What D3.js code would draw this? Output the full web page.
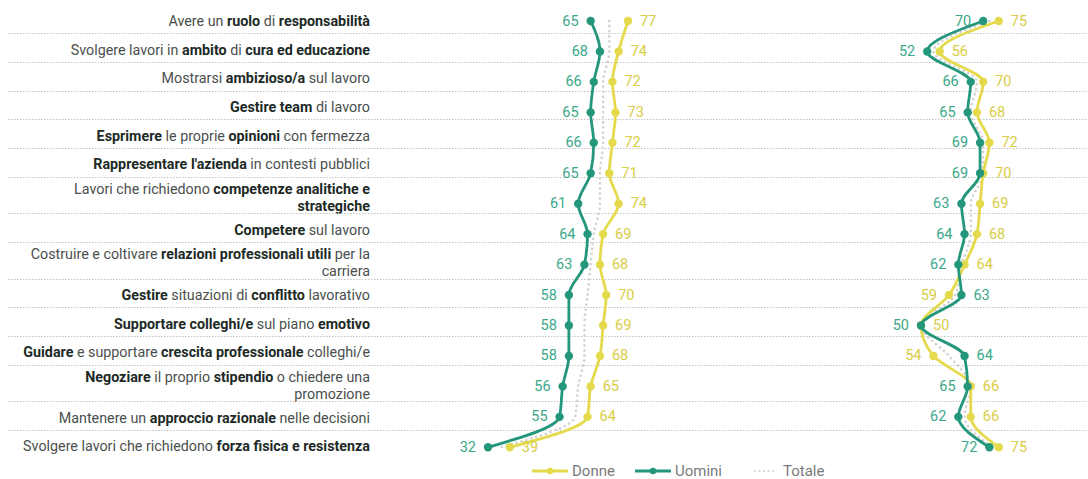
<!DOCTYPE html>
<html>
<head>
<meta charset="utf-8">
<script src="https://cdn.jsdelivr.net/npm/d3@7"></script>
<style>
  html, body { margin: 0; padding: 0; background: #fff; }
  svg { display: block; font-family: Roboto, "Noto Sans", sans-serif; }
</style>
</head>
<body>
<svg id="chart" width="1088" height="479"></svg>
<script>
// Row labels: **bold** segments, "|" marks a line break
const categories = [
  "Avere un **ruolo** di **responsabilità**",
  "Svolgere lavori in **ambito** di **cura ed educazione**",
  "Mostrarsi **ambizioso/a** sul lavoro",
  "**Gestire team** di lavoro",
  "**Esprimere** le proprie **opinioni** con fermezza",
  "**Rappresentare l'azienda** in contesti pubblici",
  "Lavori che richiedono **competenze analitiche e**|**strategiche**",
  "**Competere** sul lavoro",
  "Costruire e coltivare **relazioni professionali utili** per la|carriera",
  "**Gestire** situazioni di **conflitto** lavorativo",
  "**Supportare colleghi/e** sul piano **emotivo**",
  "**Guidare** e supportare **crescita professionale** colleghi/e",
  "**Negoziare** il proprio **stipendio** o chiedere una|promozione",
  "Mantenere un **approccio razionale** nelle decisioni",
  "Svolgere lavori che richiedono **forza fisica e resistenza**"
];

// First panel
const donneA  = [77, 74, 72, 73, 72, 71, 74, 69, 68, 70, 69, 68, 65, 64, 39];
const uominiA = [65, 68, 66, 65, 66, 65, 61, 64, 63, 58, 58, 58, 56, 55, 32];
const totaleA = [71, 71, 69, 69, 69, 68, 68, 66, 65, 64, 63, 63, 61, 60, 36];

// Second panel
const donneB  = [75, 56, 70, 68, 72, 70, 69, 68, 64, 59, 50, 54, 66, 66, 75];
const uominiB = [70, 52, 66, 65, 69, 69, 63, 64, 62, 63, 50, 64, 65, 62, 72];
const totaleB = [72, 54, 68, 66, 70, 70, 66, 66, 63, 61, 50, 59, 66, 64, 73];

const legendLabels = ["Donne", "Uomini", "Totale"];

const COL = {
  donne: "#e4da4c", donneText: "#d8cd45",
  uomini: "#24967b", uominiText: "#3aa88b",
  totale: "#d2d2d2",
  grid: "#c4c4c4",
  text: "#4a4f4d", bold: "#1d2a26",
  legend: "#7a7a7a"
};

const svg = d3.select("#chart");
const W = 1088;

// ---- label column with dotted separators ----
const labelRight = 370;
const rowTop0 = 4.6, rowSingle = 28.7, rowExtra = 7.9, lineGap = 17;

const parsed = categories.map(s => s.split("|").map(line =>
  line.split(/(\*\*[^*]+\*\*)/).filter(t => t.length).map(t =>
    t.startsWith("**") ? { t: t.slice(2, -2), b: true } : { t, b: false })));

let acc = rowTop0;
const rows = parsed.map(lines => {
  const h = rowSingle + (lines.length - 1) * rowExtra;
  const r = { top: acc, h, lines };
  acc += h;
  return r;
});

const labelG = svg.append("g");
rows.forEach((r, i) => {
  const cy = r.top + r.h / 2 + 2;
  r.lines.forEach((segs, li) => {
    const y = cy + (li - (r.lines.length - 1) / 2) * lineGap;
    const t = labelG.append("text")
      .attr("x", labelRight).attr("y", y)
      .attr("text-anchor", "end").attr("dominant-baseline", "central")
      .attr("font-size", 14.3);
    segs.forEach(s => t.append("tspan")
      .text(s.t)
      .attr("font-weight", s.b ? 700 : 400)
      .attr("fill", s.b ? COL.bold : COL.text));
  });
  if (i < rows.length - 1) {
    const y = Math.round(r.top + r.h) + 0.5;
    svg.append("line")
      .attr("x1", 8).attr("x2", W).attr("y1", y).attr("y2", y)
      .attr("stroke", COL.grid).attr("stroke-width", 1)
      .attr("stroke-dasharray", "1.5,1.5");
  }
});

// ---- panels ----
const y = d3.scalePoint().domain(d3.range(categories.length))
  .range([21, 447.3]);

const panels = [
  { x: d3.scaleLinear().domain([0, 100]).range([388.5, 699.5]), d: donneA, u: uominiA, t: totaleA },
  { x: d3.scaleLinear().domain([0, 100]).range([765.5, 1076.5]), d: donneB, u: uominiB, t: totaleB }
];

panels.forEach(p => {
  const g = svg.append("g");
  const line = d3.line()
    .x(d => p.x(d)).y((d, i) => y(i))
    .curve(d3.curveMonotoneY);

  g.append("path").datum(p.t)
    .attr("d", line).attr("fill", "none")
    .attr("stroke", COL.totale).attr("stroke-width", 2.6)
    .attr("stroke-linecap", "round").attr("stroke-dasharray", "0.1,5");

  [[p.d, COL.donne], [p.u, COL.uomini]].forEach(([vals, c]) => {
    g.append("path").datum(vals)
      .attr("d", line).attr("fill", "none")
      .attr("stroke", c).attr("stroke-width", 2.8)
      .attr("stroke-linejoin", "round");
    g.selectAll(null).data(vals).join("circle")
      .attr("cx", d => p.x(d)).attr("cy", (d, i) => y(i))
      .attr("r", 4.2).attr("fill", c);
  });

  // value labels: the lower value sits left of its point, the higher one right
  categories.forEach((_, i) => {
    const dv = p.d[i], uv = p.u[i];
    const uLeft = uv <= dv;
    const items = [
      { v: uv, left: uLeft, c: COL.uominiText },
      { v: dv, left: !uLeft, c: COL.donneText }
    ];
    items.forEach(it => {
      g.append("text")
        .attr("x", p.x(it.v) + (it.left ? -12 : 12))
        .attr("y", y(i))
        .attr("text-anchor", it.left ? "end" : "start")
        .attr("dominant-baseline", "central")
        .attr("font-size", 14.5)
        .attr("fill", it.c)
        .text(it.v);
    });
  });
});

// ---- legend ----
const legY = 471;
const legend = svg.append("g");
const legItems = [
  { name: legendLabels[0], c: COL.donne, x: 532, kind: "solid" },
  { name: legendLabels[1], c: COL.uomini, x: 635, kind: "solid" },
  { name: legendLabels[2], c: COL.totale, x: 755, kind: "dot" }
];
legItems.forEach(it => {
  const len = it.kind === "solid" ? 36 : 22;
  const l = legend.append("line")
    .attr("x1", it.x).attr("x2", it.x + len).attr("y1", legY).attr("y2", legY)
    .attr("stroke", it.c);
  if (it.kind === "solid") {
    l.attr("stroke-width", 2.8);
    legend.append("circle").attr("cx", it.x + len / 2).attr("cy", legY)
      .attr("r", 3.2).attr("fill", it.c);
  } else {
    l.attr("stroke-width", 2).attr("stroke-linecap", "round")
      .attr("stroke-dasharray", "0.1,4.4");
  }
  legend.append("text")
    .attr("x", it.x + len + (it.kind === "solid" ? 4 : 6)).attr("y", legY)
    .attr("dominant-baseline", "central")
    .attr("font-size", 15).attr("fill", COL.legend)
    .text(it.name);
});
</script>
</body>
</html>
